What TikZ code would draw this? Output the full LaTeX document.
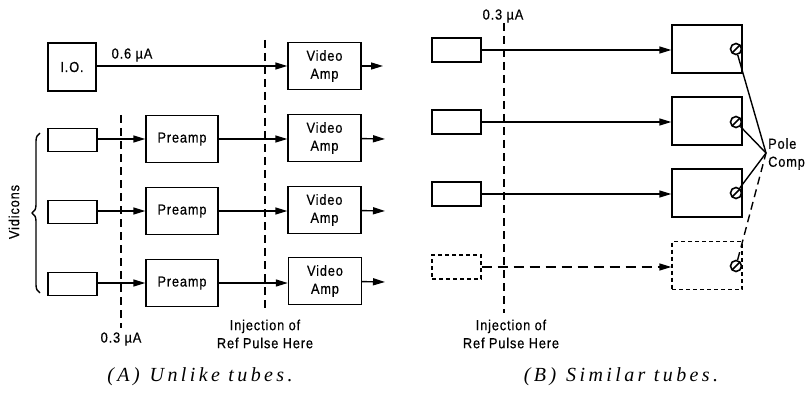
\documentclass[tikz,border=0pt]{standalone}
\usepackage{fontspec}
\newfontfamily\labfont[LetterSpace=6, FakeStretch=0.88, FakeBold=0.5]{Liberation Sans}
\newfontfamily\capfont[LetterSpace=17]{Liberation Serif}
\usetikzlibrary{arrows.meta,decorations.pathreplacing}
\begin{document}
\begin{tikzpicture}[x=1pt,y=-1pt,
  lbl/.style={font=\labfont\fontsize{14.5}{18}\selectfont, inner sep=0pt, align=center},
  captxt/.style={font=\capfont\fontsize{20}{23}\selectfont\itshape, inner sep=0pt},
  blk/.style={draw, line width=1.4pt, inner sep=0pt, lbl},
  iobox/.style={blk, minimum width=48pt, minimum height=48pt},
  vidbox/.style={blk, minimum width=49pt, minimum height=23pt},
  prebox/.style={blk, minimum width=72pt, minimum height=47pt},
  vabox/.style={blk, minimum width=73pt, minimum height=47pt},
  sbox/.style={blk, minimum width=49pt, minimum height=24pt},
  bbox/.style={blk, minimum width=70pt, minimum height=48pt},
  ghost/.style={dash pattern=on 4pt off 3pt},
  sig/.style={line width=1.4pt, -{Triangle[length=12pt,width=7pt]}},
  vdash/.style={line width=1.4pt, dash pattern=on 8pt off 5pt},
  knob/.style={draw, circle, line width=1.6pt, minimum size=11pt, inner sep=0pt,
    path picture={\draw[line width=1.6pt] (path picture bounding box.south west) -- (path picture bounding box.north east);}},
  tie/.style={line width=1.4pt}
]
\path[use as bounding box] (0,0) rectangle (808,393);

% ---------- Panel A ----------
\node[iobox] (io) at (72,67) {I.O.};
\node[lbl] (lio) at (132,55) {0.6 µA};
\node[vabox] (va1) at (324.5,66) {Video\\Amp};
\coordinate (o1) at (383,66);

\node[vidbox] (v2) at (72.5,140) {};
\node[prebox] (p2) at (182,139) {Preamp};
\node[vabox] (va2) at (324.5,138) {Video\\Amp};
\coordinate (o2) at (385,139);

\node[vidbox] (v3) at (72.5,212) {};
\node[prebox] (p3) at (182,211) {Preamp};
\node[vabox] (va3) at (324.5,210) {Video\\Amp};
\coordinate (o3) at (385,211);

\node[vidbox] (v4) at (72.5,284) {};
\node[prebox] (p4) at (182,283) {Preamp};
\node[vabox] (va4) at (325,281) {Video\\Amp};
\coordinate (o4) at (385,282);

\draw[sig] (io.east |- va1) -- (va1);
\draw[sig] (va1) -- (o1);
\foreach \r in {2,3,4}{
  \draw[sig] (v\r.east |- p\r) -- (p\r);
  \draw[sig] (p\r) -- (p\r -| va\r.west);
  \draw[sig] (va\r) -- (o\r);
}

\coordinate (dat) at (121,115);
\coordinate (dab) at (121,328);
\draw[vdash] (dat) -- (dab);
\coordinate (dbt) at (265,40);
\coordinate (dbb) at (265,312);
\draw[vdash] (dbt) -- (dbb);

\node[lbl] (la) at (121,339) {0.3 µA};
\node[lbl] (inja) at (265,334) {Injection of\\Ref Pulse Here};

\draw[line width=1.4pt, decorate, decoration={brace, amplitude=8pt}] (40,293) -- (40,133);
\node[lbl, rotate=90] (vid) at (14,212) {Vidicons};

\node[captxt] (capa) at (200,377) {(A)\enspace Unlike tubes.};

% ---------- Panel B ----------
\node[lbl] (lb) at (503,16) {0.3 µA};
\coordinate (dct) at (504,23);
\coordinate (dcb) at (504,313);
\draw[vdash] (dct) -- (dcb);

\node[sbox] (s1) at (456.5,50) {};
\node[sbox] (s2) at (456.5,122) {};
\node[sbox] (s3) at (456.5,194) {};
\node[sbox, ghost] (s4) at (456.5,267) {};

\node[bbox] (b1) at (707,49) {};
\node[bbox] (b2) at (707,121) {};
\node[bbox] (b3) at (707,193) {};
\node[bbox, ghost] (b4) at (707,265.5) {};

\draw[sig] (s1) -- (s1 -| b1.west);
\draw[sig] (s2) -- (s2 -| b2.west);
\draw[sig] (s3) -- (s3 -| b3.west);
\draw[sig, dash pattern=on 10pt off 6pt] (s4) -- (s4 -| b4.west);

\node[knob] (k1) at (736,49) {};
\node[knob] (k2) at (736,122) {};
\node[knob] (k3) at (736,193) {};
\node[knob] (k4) at (736,266) {};

\coordinate (pc) at (766,153);
\draw[tie] (k1) -- (pc);
\draw[tie] (k2) -- (pc);
\draw[tie] (k3) -- (pc);
\draw[tie, dash pattern=on 8pt off 5pt] (k4) -- (pc);
\node[lbl, anchor=west, align=left] (pole) at (768,154) {Pole\\Comp};

\node[lbl] (injb) at (511,334) {Injection of\\Ref Pulse Here};
\node[captxt] (capb) at (621,377) {(B)\enspace Similar tubes.};
\end{tikzpicture}
\end{document}
